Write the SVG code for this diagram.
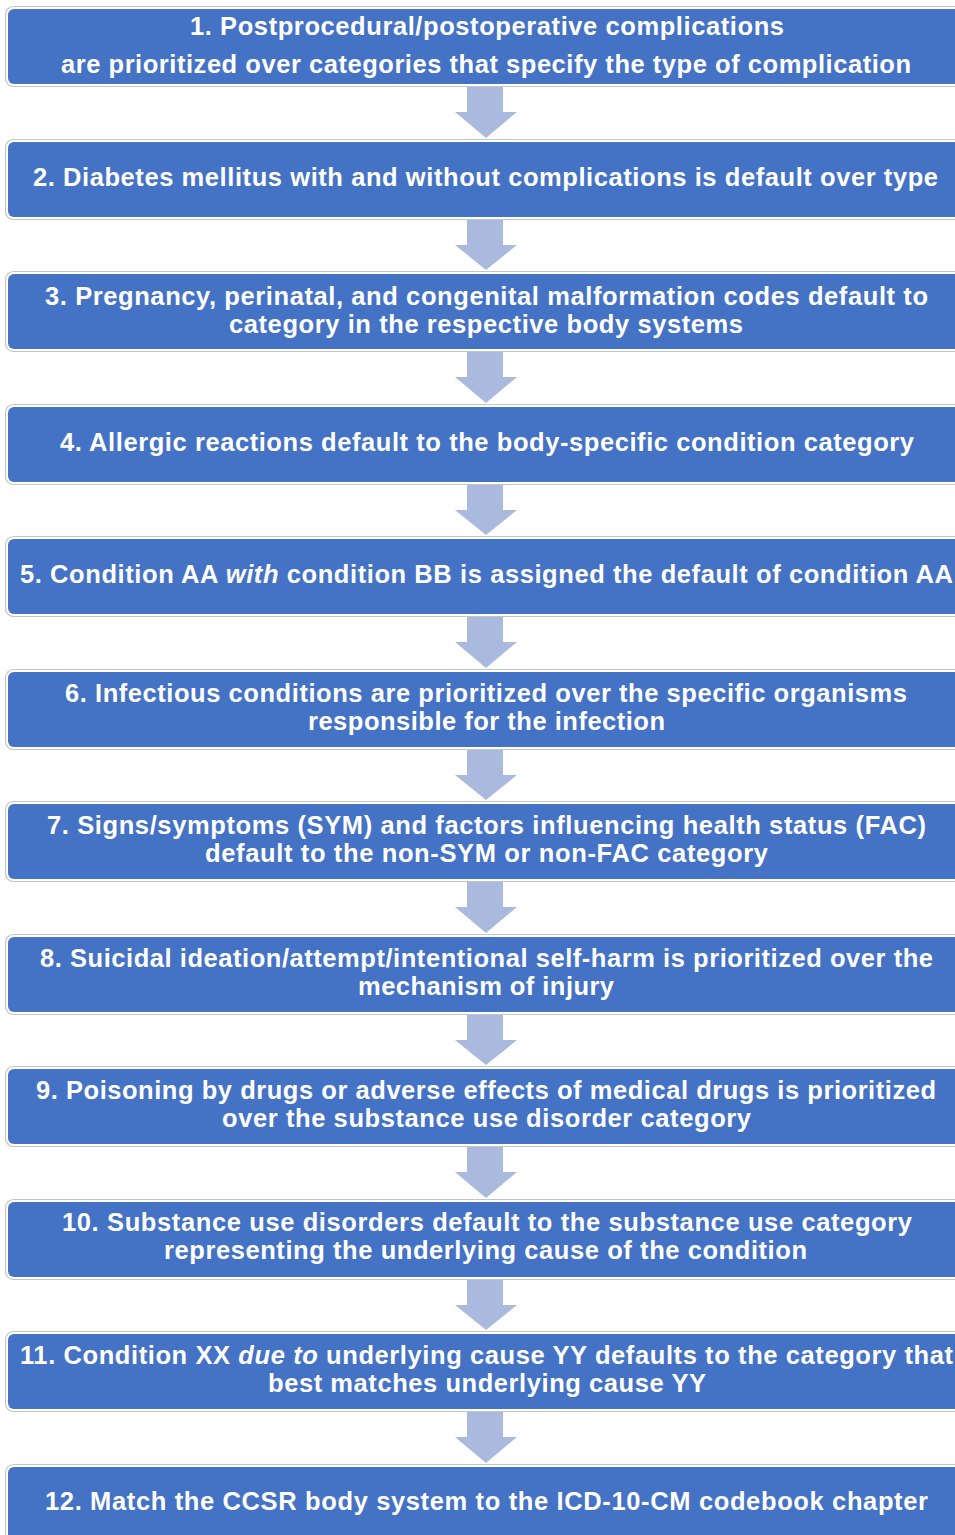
<svg xmlns="http://www.w3.org/2000/svg" width="955" height="1535" viewBox="0 0 955 1535">
<defs>
<style>
.outer{fill:#FFFFFF;stroke:#C4C4C4;stroke-width:1.2}
.box{fill:#4472C4}
.arrow{fill:#AABADF}
.t{font-family:"Liberation Sans",Arial,sans-serif;font-weight:bold;font-size:25.5px;fill:#FFFFFF;text-anchor:middle}
.i{font-style:italic}
</style>
</defs>
<rect width="955" height="1535" fill="#FFFFFF"/>
<g id="connectors">
<polygon class="arrow" points="467,87 503,87 503,112 517,112 486,138 455,112 467,112"/>
<polygon class="arrow" points="467,220 503,220 503,245 517,245 486,270 455,245 467,245"/>
<polygon class="arrow" points="467,352 503,352 503,377 517,377 486,403 455,377 467,377"/>
<polygon class="arrow" points="467,485 503,485 503,510 517,510 486,535 455,510 467,510"/>
<polygon class="arrow" points="467,617 503,617 503,642 517,642 486,668 455,642 467,642"/>
<polygon class="arrow" points="467,750 503,750 503,775 517,775 486,800 455,775 467,775"/>
<polygon class="arrow" points="467,882 503,882 503,907 517,907 486,933 455,907 467,907"/>
<polygon class="arrow" points="467,1015 503,1015 503,1040 517,1040 486,1065 455,1040 467,1040"/>
<polygon class="arrow" points="467,1147 503,1147 503,1172 517,1172 486,1198 455,1172 467,1172"/>
<polygon class="arrow" points="467,1280 503,1280 503,1305 517,1305 486,1330 455,1305 467,1305"/>
<polygon class="arrow" points="467,1412 503,1412 503,1437 517,1437 486,1463 455,1437 467,1437"/>
</g>
<g id="node1">
<rect class="outer" x="5.5" y="6.5" width="970" height="80" rx="8"/>
<rect class="box" x="8" y="9" width="965" height="75" rx="6"/>
<text class="t" x="487" y="35" textLength="594">1. Postprocedural/postoperative complications</text>
<text class="t" x="486" y="73" textLength="850">are prioritized over categories that specify the type of complication</text>
</g>
<g id="node2">
<rect class="outer" x="5.5" y="139.5" width="970" height="80" rx="8"/>
<rect class="box" x="8" y="142" width="965" height="75" rx="6"/>
<text class="t" x="485.5" y="186" textLength="905">2. Diabetes mellitus with and without complications is default over type</text>
</g>
<g id="node3">
<rect class="outer" x="5.5" y="271.5" width="970" height="80" rx="8"/>
<rect class="box" x="8" y="274" width="965" height="75" rx="6"/>
<text class="t" x="486.5" y="305" textLength="883">3. Pregnancy, perinatal, and congenital malformation codes default to</text>
<text class="t" x="486" y="333" textLength="514">category in the respective body systems</text>
</g>
<g id="node4">
<rect class="outer" x="5.5" y="404.5" width="970" height="80" rx="8"/>
<rect class="box" x="8" y="407" width="965" height="75" rx="6"/>
<text class="t" x="487" y="451" textLength="854">4. Allergic reactions default to the body-specific condition category</text>
</g>
<g id="node5">
<rect class="outer" x="5.5" y="536.5" width="970" height="80" rx="8"/>
<rect class="box" x="8" y="539" width="965" height="75" rx="6"/>
<text class="t" x="486.5" y="583" textLength="933">5. Condition AA <tspan class="i">with</tspan> condition BB is assigned the default of condition AA</text>
</g>
<g id="node6">
<rect class="outer" x="5.5" y="669.5" width="970" height="80" rx="8"/>
<rect class="box" x="8" y="672" width="965" height="75" rx="6"/>
<text class="t" x="486" y="702" textLength="842">6. Infectious conditions are prioritized over the specific organisms</text>
<text class="t" x="486.5" y="730" textLength="357">responsible for the infection</text>
</g>
<g id="node7">
<rect class="outer" x="5.5" y="801.5" width="970" height="80" rx="8"/>
<rect class="box" x="8" y="804" width="965" height="75" rx="6"/>
<text class="t" x="486.5" y="834" textLength="879">7. Signs/symptoms (SYM) and factors influencing health status (FAC)</text>
<text class="t" x="486.5" y="862" textLength="563">default to the non-SYM or non-FAC category</text>
</g>
<g id="node8">
<rect class="outer" x="5.5" y="934.5" width="970" height="80" rx="8"/>
<rect class="box" x="8" y="937" width="965" height="75" rx="6"/>
<text class="t" x="486.5" y="967" textLength="893">8. Suicidal ideation/attempt/intentional self-harm is prioritized over the</text>
<text class="t" x="486" y="995" textLength="256">mechanism of injury</text>
</g>
<g id="node9">
<rect class="outer" x="5.5" y="1066.5" width="970" height="80" rx="8"/>
<rect class="box" x="8" y="1069" width="965" height="75" rx="6"/>
<text class="t" x="486" y="1099" textLength="900">9. Poisoning by drugs or adverse effects of medical drugs is prioritized</text>
<text class="t" x="486.5" y="1127" textLength="529">over the substance use disorder category</text>
</g>
<g id="node10">
<rect class="outer" x="5.5" y="1199.5" width="970" height="80" rx="8"/>
<rect class="box" x="8" y="1202" width="965" height="75" rx="6"/>
<text class="t" x="487" y="1231" textLength="850">10. Substance use disorders default to the substance use category</text>
<text class="t" x="485.5" y="1259" textLength="643">representing the underlying cause of the condition</text>
</g>
<g id="node11">
<rect class="outer" x="5.5" y="1331.5" width="970" height="80" rx="8"/>
<rect class="box" x="8" y="1334" width="965" height="75" rx="6"/>
<text class="t" x="486.5" y="1364" textLength="933">11. Condition XX <tspan class="i">due to</tspan> underlying cause YY defaults to the category that</text>
<text class="t" x="487" y="1392" textLength="438">best matches underlying cause YY</text>
</g>
<g id="node12">
<rect class="outer" x="5.5" y="1464.5" width="970" height="80" rx="8"/>
<rect class="box" x="8" y="1467" width="965" height="75" rx="6"/>
<text class="t" x="486.5" y="1510" textLength="883">12. Match the CCSR body system to the ICD-10-CM codebook chapter</text>
</g>
</svg>
